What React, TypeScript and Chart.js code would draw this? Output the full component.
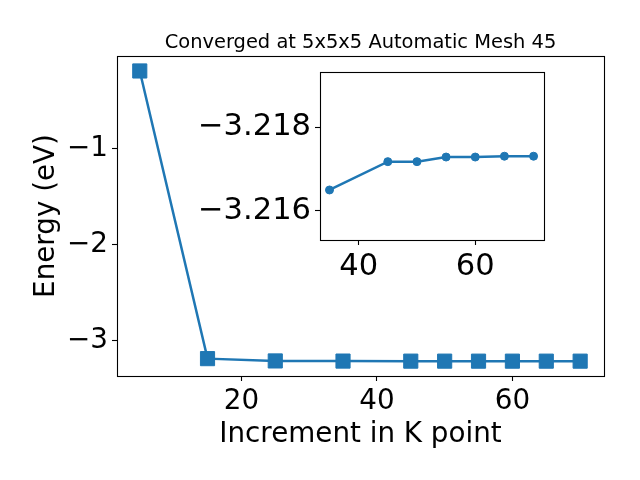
import React, { useEffect, useRef } from "react";
import { Chart, registerables } from "chart.js";

Chart.register(...registerables);

// ---- data ----
const kPoints = [5, 15, 25, 35, 45, 50, 55, 60, 65, 70];
const energies = [-0.193, -3.191, -3.215, -3.2165, -3.21718, -3.21718, -3.21729, -3.21729, -3.21731, -3.21731];
const insetK = [35, 45, 50, 55, 60, 65, 70];
const insetE = [-3.2165, -3.21718, -3.21718, -3.21729, -3.21729, -3.21731, -3.21731];
const mainXTicks = [20, 40, 60];
const mainYTicks = [-3, -2, -1];
const insetXTicks = [40, 60];
const insetYTicks = [-3.218, -3.216];
const titleText = "Converged at 5x5x5 Automatic Mesh 45";
const xLabel = "Increment in K point";
const yLabel = "Energy (eV)";

const FONT = "'DejaVu Sans', sans-serif";
const BLUE = "#1f77b4";
const TICK_SIZE = 27.78;
const INSET_TICK_SIZE = 30.56;

const fmt = (v: any) => String(v).replace("-", "\u2212");

const framePlugin = {
  id: "frame",
  beforeDraw(chart: any, _a: any, opts: any) {
    if (!opts.fill) return;
    const { ctx, chartArea: a } = chart;
    ctx.save();
    ctx.fillStyle = "#fff";
    ctx.fillRect(a.left, a.top, a.right - a.left, a.bottom - a.top);
    ctx.restore();
  },
  afterDraw(chart: any) {
    const { ctx, chartArea: a } = chart;
    ctx.save();
    ctx.strokeStyle = "#000";
    ctx.lineWidth = 1.1;
    ctx.strokeRect(Math.round(a.left) + 0.5, Math.round(a.top) + 0.5, Math.round(a.right - a.left), Math.round(a.bottom - a.top));
    ctx.restore();
  },
};

const labelsPlugin = {
  id: "labels",
  afterDraw(chart: any, _a: any, opts: any) {
    if (!opts.on) return;
    const { ctx, chartArea: a } = chart;
    const cx = (a.left + a.right) / 2;
    const cy = (a.top + a.bottom) / 2;
    ctx.save();
    ctx.fillStyle = "#000";
    ctx.textAlign = "center";
    ctx.textBaseline = "alphabetic";
    ctx.font = `19.44px ${FONT}`;
    ctx.fillText(titleText, cx, 48.3);
    ctx.font = `${TICK_SIZE}px ${FONT}`;
    ctx.fillText(xLabel, cx, 441.5);
    ctx.translate(53.5, cy);
    ctx.rotate(-Math.PI / 2);
    ctx.fillText(yLabel, 0, 0);
    ctx.restore();
  },
};

function axisCommon(ticks: number[], size: number) {
  return {
    type: "linear" as const,
    afterBuildTicks(s: any) {
      s.ticks = ticks.map((v) => ({ value: v }));
    },
    grid: { drawOnChartArea: false, drawTicks: true, tickLength: 5, tickColor: "#000", tickWidth: 1.1 },
    border: { display: false },
    ticks: { font: { family: FONT, size }, color: "#000", padding: 4, callback: fmt },
  };
}

export default function App() {
  const mainRef = useRef<HTMLCanvasElement>(null);
  const insetRef = useRef<HTMLCanvasElement>(null);

  useEffect(() => {
    document.body.style.margin = "0";
    const main = new Chart(mainRef.current!, {
      type: "line",
      data: {
        datasets: [
          {
            data: kPoints.map((x, i) => ({ x, y: energies[i] })),
            borderColor: BLUE,
            backgroundColor: BLUE,
            borderWidth: 2.5,
            pointStyle: "rect",
            pointRadius: 10,
            pointBorderWidth: 1,
            tension: 0,
          },
        ],
      },
      options: {
        animation: false,
        responsive: false,
        layout: { padding: { left: 0, right: 36, top: 56, bottom: 0 } },
        plugins: { legend: { display: false }, tooltip: { enabled: false }, labels: { on: true }, frame: { fill: false } } as any,
        scales: {
          x: { ...axisCommon(mainXTicks, TICK_SIZE), min: 1.64, max: 73.52, afterFit(s: any) { s.height = 104; } },
          y: { ...axisCommon(mainYTicks, TICK_SIZE), min: -3.372, max: -0.037, afterFit(s: any) { s.width = 117; } },
        } as any,
      },
      plugins: [framePlugin, labelsPlugin],
    });

    const inset = new Chart(insetRef.current!, {
      type: "line",
      data: {
        datasets: [
          {
            data: insetK.map((x, i) => ({ x, y: insetE[i] })),
            borderColor: BLUE,
            backgroundColor: BLUE,
            borderWidth: 2.5,
            pointStyle: "circle",
            pointRadius: 4,
            pointBorderWidth: 1,
            tension: 0,
          },
        ],
      },
      options: {
        animation: false,
        responsive: false,
        layout: { padding: { left: 0, right: 96, top: 72, bottom: 0 } },
        plugins: { legend: { display: false }, tooltip: { enabled: false }, labels: { on: false }, frame: { fill: true } } as any,
        scales: {
          x: { ...axisCommon(insetXTicks, INSET_TICK_SIZE), min: 33.37, max: 71.79, afterFit(s: any) { s.height = 240; } },
          y: { ...axisCommon(insetYTicks, INSET_TICK_SIZE), min: -3.21933, max: -3.2153, reverse: true, afterFit(s: any) { s.width = 320; } },
        } as any,
      },
      plugins: [framePlugin, labelsPlugin],
    });

    return () => {
      main.destroy();
      inset.destroy();
    };
  }, []);

  return (
    <div style={{ position: "relative", width: 640, height: 480, background: "#fff" }}>
      <canvas ref={mainRef} width={640} height={480} style={{ display: "block", position: "absolute", left: 0, top: 0 }} />
      <canvas ref={insetRef} width={640} height={480} style={{ display: "block", position: "absolute", left: 0, top: 0, pointerEvents: "none" }} />
    </div>
  );
}
